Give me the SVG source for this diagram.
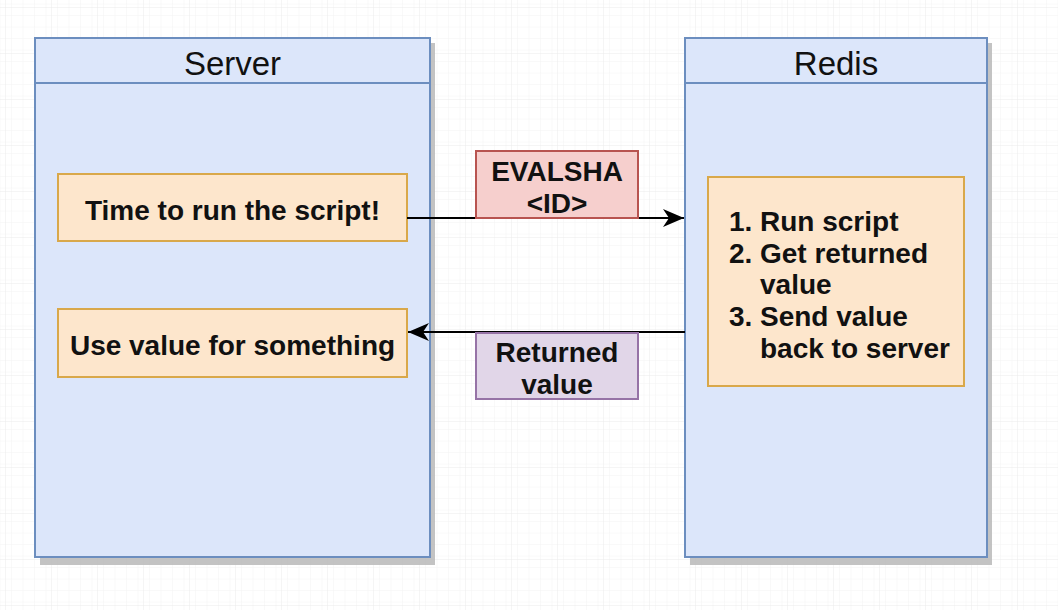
<svg xmlns="http://www.w3.org/2000/svg" width="1058" height="610" viewBox="0 0 1058 610">
  <defs>
    <pattern id="gridMinor" width="11.5" height="11.5" patternUnits="userSpaceOnUse" x="6" y="8">
      <path d="M11.5 0V11.5H0" fill="none" stroke="#f4f4f4" stroke-width="1"/>
    </pattern>
    <pattern id="gridMajor" width="46" height="46" patternUnits="userSpaceOnUse" x="6" y="8">
      <rect width="46" height="46" fill="url(#gridMinor)"/>
      <path d="M46 0V46H0" fill="none" stroke="#ebebeb" stroke-width="1"/>
    </pattern>
    <marker id="arrow" viewBox="0 0 22 20" refX="21" refY="10" markerWidth="22" markerHeight="20" markerUnits="userSpaceOnUse" orient="auto">
      <path d="M0 1 L21 10 L0 19 L6 10 Z" fill="#000"/>
    </marker>
    <style>
      .container { fill: #dce6fa; stroke: #6c8ebf; stroke-width: 2; }
      .shadow { fill: #b8b8b8; opacity: 0.85; }
      .title { font-family: "Liberation Sans", Arial, sans-serif; font-size: 33px; fill: #111; text-anchor: middle; }
      .box { fill: #fde6cc; stroke: #d9a84a; stroke-width: 2; }
      .red { fill: #f6cfcd; stroke: #b85450; stroke-width: 2; }
      .purple { fill: #e1d6e8; stroke: #9673a6; stroke-width: 2; }
      .lbl { font-family: "Liberation Sans", Arial, sans-serif; font-size: 28px; font-weight: bold; fill: #111; text-anchor: middle; }
      .lst { font-family: "Liberation Sans", Arial, sans-serif; font-size: 28px; font-weight: bold; fill: #111; }
      .edge { fill: none; stroke: #000; stroke-width: 2; }
    </style>
  </defs>

  <rect width="1058" height="610" fill="#ffffff"/>
  <rect width="1058" height="610" fill="url(#gridMajor)"/>

  <g id="server">
    <rect class="shadow" x="40" y="43" width="395" height="522"/>
    <rect class="container" x="35" y="38" width="395" height="519"/>
    <line x1="35" y1="83" x2="430" y2="83" stroke="#6c8ebf" stroke-width="2"/>
    <text class="title" x="232.5" y="75">Server</text>
  </g>

  <g id="redis">
    <rect class="shadow" x="690" y="43" width="302" height="522"/>
    <rect class="container" x="685" y="38" width="302" height="519"/>
    <line x1="685" y1="83" x2="987" y2="83" stroke="#6c8ebf" stroke-width="2"/>
    <text class="title" x="836" y="75">Redis</text>
  </g>

  <g id="time-to-run">
    <rect class="box" x="58" y="174" width="349" height="67"/>
    <text class="lbl" x="232.5" y="220">Time to run the script!</text>
  </g>

  <g id="use-value">
    <rect class="box" x="58" y="309" width="349" height="68"/>
    <text class="lbl" x="232.5" y="355">Use value for something</text>
  </g>

  <g id="redis-steps">
    <rect class="box" x="708" y="177" width="256" height="209"/>
    <text class="lst" x="729" y="231">1.</text>
    <text class="lst" x="760" y="231">Run script</text>
    <text class="lst" x="729" y="263">2.</text>
    <text class="lst" x="760" y="263">Get returned</text>
    <text class="lst" x="760" y="294">value</text>
    <text class="lst" x="729" y="326">3.</text>
    <text class="lst" x="760" y="326">Send value</text>
    <text class="lst" x="760" y="358">back to server</text>
  </g>

  <g id="connectors">
    <line class="edge" x1="407" y1="218" x2="684" y2="218" marker-end="url(#arrow)"/>
    <line class="edge" x1="685" y1="332" x2="408" y2="332" marker-end="url(#arrow)"/>
  </g>

  <g id="evalsha-label">
    <rect class="red" x="476" y="151" width="162" height="67"/>
    <text class="lbl" x="557" y="181">EVALSHA</text>
    <text class="lbl" x="557" y="213">&lt;ID&gt;</text>
  </g>

  <g id="returned-label">
    <rect class="purple" x="476" y="333" width="162" height="66"/>
    <text class="lbl" x="557" y="362">Returned</text>
    <text class="lbl" x="557" y="394">value</text>
  </g>
</svg>
